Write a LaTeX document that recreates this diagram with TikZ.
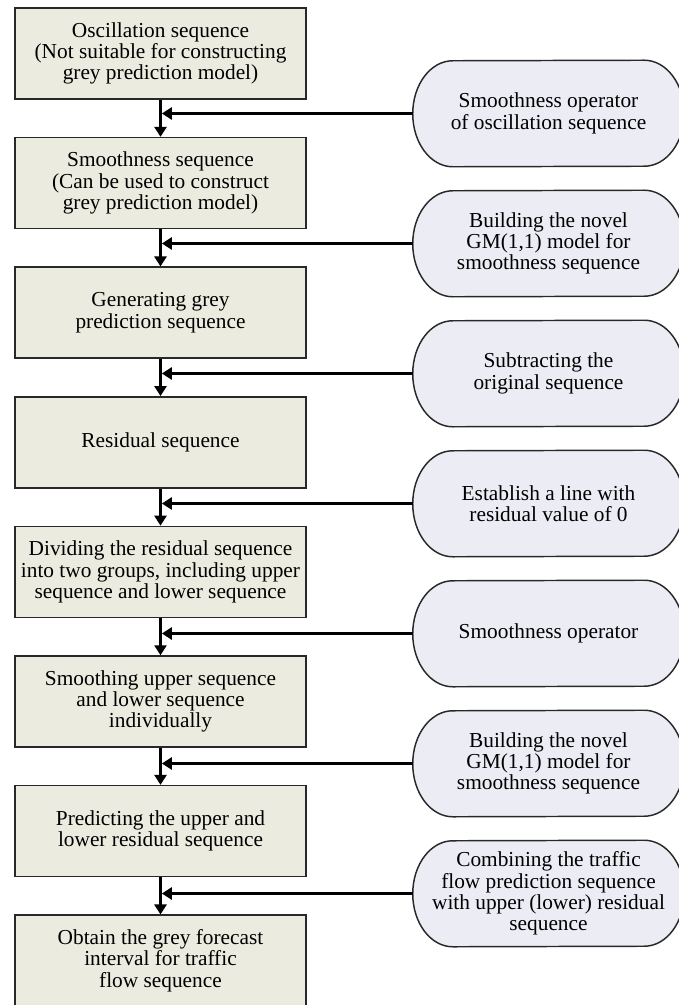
\documentclass[tikz,border=0pt]{standalone}
\usepackage{fontspec}
\setmainfont{Liberation Serif}
\usetikzlibrary{arrows.meta,backgrounds}
\definecolor{boxfill}{RGB}{235,236,223}
\definecolor{stadfill}{RGB}{236,237,244}
\definecolor{edge}{RGB}{40,40,40}
\tikzset{
  flowbox/.style={draw=edge,line width=1.1pt,fill=boxfill,minimum width=218.25pt,minimum height=68.25pt,inner sep=0pt,align=center,font=\fontsize{16pt}{16pt}\selectfont},
  stadnode/.style={minimum width=203.25pt,minimum height=79.5pt,inner sep=0pt,align=center,font=\fontsize{16pt}{16pt}\selectfont},
  stadline/.style={draw=edge,line width=1.1pt,fill=stadfill},
  arr/.style={draw=black,line width=2pt,-{Triangle[length=7.5pt,width=9pt]}},
  feed/.style={draw=black,line width=2pt}
}
\begin{document}
\begin{tikzpicture}[x=0.75pt,y=-0.75pt]
\useasboundingbox (0,0) rectangle (678,1005);
% left boxes
\node[flowbox] (b1) at (160.5,53.5) {Oscillation sequence\\(Not suitable for constructing\\grey prediction model)};
\node[flowbox] (b2) at (160.5,183.1) {Smoothness sequence\\(Can be used to construct\\grey prediction model)};
\node[flowbox] (b3) at (160.5,312.7) {Generating grey\\prediction sequence};
\node[flowbox] (b4) at (160.5,442.3) {Residual sequence};
\node[flowbox] (b5) at (160.5,571.9) {Dividing the residual sequence\\into two groups, including upper\\sequence and lower sequence};
\node[flowbox] (b6) at (160.5,701.5) {Smoothing upper sequence\\and lower sequence\\individually};
\node[flowbox] (b7) at (160.5,831.1) {Predicting the upper and\\lower residual sequence};
\node[flowbox] (b8) at (160.5,960.7) {Obtain the grey forecast\\interval for traffic\\flow sequence};
% right stadiums
\node[stadnode] (s1) at (548.5,113.5) {Smoothness operator\\of oscillation sequence};
\node[stadnode] (s2) at (548.5,243.5) {Building the novel\\GM(1,1) model for\\smoothness sequence};
\node[stadnode] (s3) at (548.5,373.5) {Subtracting the\\original sequence};
\node[stadnode] (s4) at (548.5,503.5) {Establish a line with\\residual value of 0};
\node[stadnode] (s5) at (548.5,633.5) {Smoothness operator};
\node[stadnode] (s6) at (548.5,763.5) {Building the novel\\GM(1,1) model for\\smoothness sequence};
\node[stadnode] (s7) at (548.5,893.5) {Combining the traffic\\flow prediction sequence\\with upper (lower) residual\\sequence};
\begin{scope}[on background layer]
\foreach \i in {1,...,7}{
  \path[stadline] ([xshift=-30pt]s\i.north east) arc[start angle=-90,end angle=90,x radius=40,y radius=53]
     -- ([xshift=30pt]s\i.south west) arc[start angle=90,end angle=270,x radius=40,y radius=53] -- cycle;
}
\end{scope}
% connectors
\foreach \i/\j in {1/2,2/3,3/4,4/5,5/6,6/7,7/8}{
  \draw[arr] (b\i.south) -- (b\j.north);
}
\foreach \i in {1,...,7}{
  \coordinate (j\i) at ([xshift=1pt]b\i.south |- s\i.west);
  \draw[arr] (s\i.west) -- (j\i);
}
\end{tikzpicture}
\end{document}
